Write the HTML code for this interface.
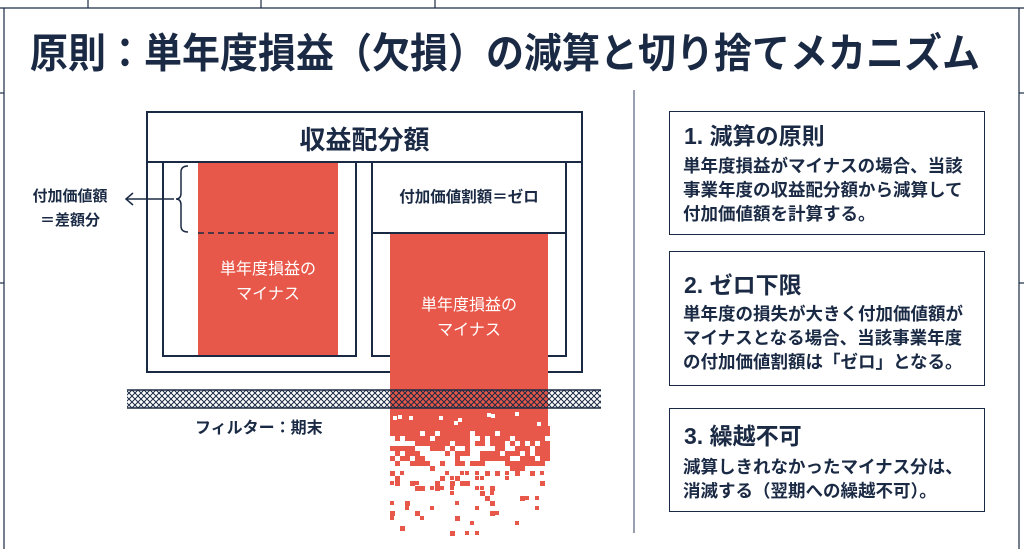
<!DOCTYPE html>
<html><head><meta charset="utf-8"><style>
html,body{margin:0;padding:0;background:#fff;}
body{width:1024px;height:549px;position:relative;overflow:hidden;font-family:"Liberation Sans","Noto Sans CJK JP",sans-serif;color:#1b2a44;}
.a{position:absolute;}
.box{position:absolute;border:1.5px solid #1b2a44;box-sizing:border-box;background:#fff;}
.bt{font-weight:bold;font-size:23px;position:absolute;left:14px;white-space:nowrap;}
.bd{font-weight:bold;font-size:17.5px;line-height:24px;position:absolute;left:13px;white-space:nowrap;}
</style></head><body>
<svg class="a" style="left:0;top:0" width="1024" height="549">
<defs>
<pattern id="h" width="6" height="6" patternUnits="userSpaceOnUse">
<path d="M0 0L6 6M6 0L0 6" stroke="#1b2a44" stroke-width="1"/>
</pattern>
</defs>
<g stroke="#1b2a44" stroke-width="1.2" fill="none">
<line x1="0" y1="8" x2="1024" y2="8"/>
<line x1="88" y1="0" x2="88" y2="8"/><line x1="261" y1="0" x2="261" y2="8"/><line x1="435" y1="0" x2="435" y2="8"/>
<line x1="4" y1="8" x2="4" y2="549"/><line x1="1019" y1="8" x2="1019" y2="549"/>
<line x1="0" y1="93" x2="4" y2="93"/><line x1="0" y1="283" x2="4" y2="283"/>
<line x1="1019" y1="93" x2="1024" y2="93"/><line x1="1019" y1="283" x2="1024" y2="283"/>
<line x1="634" y1="90" x2="634" y2="533" stroke="#55607a"/>
</g>
<g stroke="#1b2a44" stroke-width="2" fill="none">
<rect x="147" y="112" width="435" height="50" fill="#fff"/>
<polyline points="147,162 147,372 392,372"/>
<polyline points="546,372 582,372 582,162"/>
<polyline points="163,162 163,356 356,356 356,162"/>
<polyline points="372,162 372,356 392,356"/>
<polyline points="546,356 566,356 566,162"/>
<rect x="372" y="162" width="194" height="71" fill="#fff"/>
</g>
<rect x="198" y="163" width="140" height="192" fill="#e8584a"/>
<line x1="198" y1="233" x2="338" y2="233" stroke="#1b2a44" stroke-width="1.5" stroke-dasharray="6,4"/>
<path d="M188 166 Q181 166 181 172 L181 193 Q181 199 176 199 Q181 199 181 205 L181 226 Q181 232 188 232" stroke="#1b2a44" stroke-width="1.5" fill="none"/>
<line x1="174" y1="199" x2="126" y2="199" stroke="#1b2a44" stroke-width="1.5"/>
<path d="M133 193 L126 199 L133 205" stroke="#1b2a44" stroke-width="1.5" fill="none"/>
<rect x="390" y="234" width="158" height="192" fill="#e8584a"/>
<g id="px" fill="#e8584a"></g>
<rect x="127" y="390" width="474" height="18" fill="url(#h)"/>
<line x1="127" y1="390" x2="601" y2="390" stroke="#1b2a44" stroke-width="1.5"/>
<line x1="127" y1="408" x2="601" y2="408" stroke="#1b2a44" stroke-width="1.5"/>
</svg>
<div class="a" style="left:30px;top:20px;font-size:38px;font-weight:bold;white-space:nowrap;transform:scaleY(1.08);transform-origin:left top">原則：単年度損益（欠損）の減算と切り捨てメカニズム</div>
<div class="a" style="left:147px;top:120px;width:435px;text-align:center;font-size:26px;font-weight:bold">収益配分額</div>
<div class="a" style="left:372px;top:185px;width:194px;text-align:center;font-size:15.5px;font-weight:bold">付加価値割額＝ゼロ</div>
<div class="a" style="left:198px;top:257px;width:140px;text-align:center;font-size:16px;line-height:25px;color:#fff">単年度損益の<br>マイナス</div>
<div class="a" style="left:390px;top:293px;width:158px;text-align:center;font-size:16px;line-height:25px;color:#fff">単年度損益の<br>マイナス</div>
<div class="a" style="left:20px;top:185px;width:100px;text-align:center;font-size:15px;font-weight:bold;line-height:24px">付加価値額<br>＝差額分</div>
<div class="a" style="left:195px;top:414px;font-size:16px;font-weight:bold">フィルター：期末</div>
<div class="box" style="left:669px;top:111px;width:316px;height:124px">
<div class="bt" style="top:5px">1. 減算の原則</div>
<div class="bd" style="top:42px">単年度損益がマイナスの場合、当該<br>事業年度の収益配分額から減算して<br>付加価値額を計算する。</div></div>
<div class="box" style="left:669px;top:251px;width:316px;height:135px">
<div class="bt" style="top:14px">2. ゼロ下限</div>
<div class="bd" style="top:50px">単年度の損失が大きく付加価値額が<br>マイナスとなる場合、当該事業年度<br>の付加価値割額は「ゼロ」となる。</div></div>
<div class="box" style="left:669px;top:408px;width:316px;height:104px">
<div class="bt" style="top:8px">3. 繰越不可</div>
<div class="bd" style="top:46px">減算しきれなかったマイナス分は、<br>消滅する（翌期への繰越不可）。</div></div>
<script>
var g=document.getElementById('px'),s=7,h="";
function r(){s=(s*16807)%2147483647;return s/2147483647;}
for(var y=426;y<536;y+=5){for(var x=390;x<548;x+=5){var t=(y-426)/110;var p=1-t;p=p*p*0.9+0.04;if(r()<p){var w=t<0.4?5:(r()<0.4?5:4);h+='<rect x="'+x+'" y="'+y+'" width="'+w+'" height="'+w+'"/>';}}}
for(var i=0;i<10;i++){var x=392+Math.floor(r()*150),y=412+Math.floor(r()*12);h+='<rect x="'+x+'" y="'+y+'" width="4" height="4" fill="#fff"/>';}
g.innerHTML=h;
</script>
</body></html>
